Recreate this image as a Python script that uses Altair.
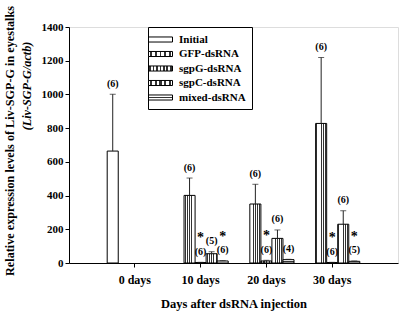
import json
import altair as alt
import pandas as pd

# ---------------- data ----------------
days = ["0 days", "10 days", "20 days", "30 days"]
series = ["Initial", "GFP-dsRNA", "sgpG-dsRNA", "sgpC-dsRNA", "mixed-dsRNA"]

initial_mean = [664]
initial_err = [337]
initial_n = [6]

gfp_mean = [401, 350, 828]
gfp_err = [103, 117, 391]
gfp_n = [6, 6, 6]

sgpg_mean = [3, 12, 3]
sgpg_err = [1, 4, 1]
sgpg_n = [6, 6, 6]
sgpg_star = [True, True, True]

sgpc_mean = [55, 146, 230]
sgpc_err = [12, 50, 80]
sgpc_n = [5, 6, 6]
sgpc_star = [False, False, False]

mixed_mean = [12, 20, 10]
mixed_err = [2, 2, 2]
mixed_n = [6, 4, 5]
mixed_star = [True, False, True]

y_ticks = [0, 200, 400, 600, 800, 1000, 1200, 1400]

rows = [dict(day=days[0], series=series[0], mean=initial_mean[0],
             err=initial_err[0], n=initial_n[0], star=False)]
for s, m, e, n, st in [
    (series[1], gfp_mean, gfp_err, gfp_n, [False] * 3),
    (series[2], sgpg_mean, sgpg_err, sgpg_n, sgpg_star),
    (series[3], sgpc_mean, sgpc_err, sgpc_n, sgpc_star),
    (series[4], mixed_mean, mixed_err, mixed_n, mixed_star),
]:
    for i in range(3):
        rows.append(dict(day=days[i + 1], series=s, mean=m[i], err=e[i],
                         n=n[i], star=st[i]))
df = pd.DataFrame(rows)

# ---------------- styles ----------------
FONT = "Times New Roman, Liberation Serif, Times, serif"


def stripes(count, dark_frac, vertical=True, dark="#333333", light="#ffffff"):
    stops = []
    for i in range(count):
        a = i / count
        b = (i + (1 - dark_frac) / 2) / count
        c = (i + (1 + dark_frac) / 2) / count
        d = (i + 1) / count
        stops += [
            {"offset": round(a, 4), "color": light},
            {"offset": round(b, 4), "color": light},
            {"offset": round(b, 4), "color": dark},
            {"offset": round(c, 4), "color": dark},
            {"offset": round(c, 4), "color": light},
            {"offset": round(d, 4), "color": light},
        ]
    g = {"gradient": "linear", "x1": 0, "y1": 0, "stops": stops}
    if vertical:
        g.update({"x2": 1, "y2": 0})
    else:
        g.update({"x2": 0, "y2": 1})
    return g


fills = [
    {"expr": "'#ffffff'"},
    {"expr": json.dumps(stripes(5, 0.35))},
    {"expr": json.dumps(stripes(7, 0.5))},
    {"expr": json.dumps(stripes(5, 0.42))},
    {"expr": json.dumps(stripes(1, 0.3, vertical=False))},
]

x_enc = alt.X("day:N", scale=alt.Scale(domain=days, paddingInner=0, paddingOuter=0.5),
              axis=alt.Axis(title="Days after dsRNA injection", labelAngle=0,
                            tickSize=4, labelPadding=7, titlePadding=12,
                            labelFontSize=12, titleFontSize=12.5,
                            labelFont=FONT, titleFont=FONT,
                            labelFontWeight="bold", titleFontWeight="bold",
                            domainColor="black", tickColor="black",
                            labelColor="black", titleColor="black"))
xo_enc = alt.XOffset("series:N", scale=alt.Scale(domain=series, paddingInner=0,
                                                 paddingOuter=0.48))
y_scale = alt.Scale(domain=[0, 1400], nice=False)
y_axis = alt.Axis(values=y_ticks, format="d", labelOverlap=False,
                  title=None, tickSize=4, labelPadding=2,
                  labelFontSize=11, labelFont=FONT, labelFontWeight="bold",
                  domainColor="black", tickColor="black",
                  labelColor="black", grid=False)
y_mean = alt.Y("mean:Q", scale=y_scale, axis=y_axis)
y_top = alt.Y("top:Q", scale=y_scale, axis=y_axis)

base = alt.Chart(df).encode(x=x_enc, xOffset=xo_enc)

legend = alt.Legend(
    title=None, orient="none", legendX=79, legendY=0,
    symbolType="M-2,-0.42H2V0.42H-2Z", symbolSize=144,
    symbolStrokeColor="black", symbolStrokeWidth=1, symbolOpacity=1,
    labelFont=FONT, labelFontSize=11, labelFontWeight="bold", labelColor="black",
    labelOffset=12, rowPadding=2.5, padding=6,
    strokeColor="black", fillColor="white",
)

bars = base.mark_bar(stroke="black", strokeWidth=1, opacity=1).encode(
    y=y_mean,
    color=alt.Color("series:N", scale=alt.Scale(domain=series, range=fills),
                    legend=legend),
)

base_err = base.transform_calculate(top="datum.mean + datum.err")

err_line = base_err.mark_rule(color="#222222", strokeWidth=1).encode(
    y=y_mean, y2="top:Q")
err_cap = base_err.mark_tick(color="#222222", orient="horizontal", size=6,
                             thickness=1).encode(y=y_top)

labels = base_err.transform_calculate(lab="'(' + datum.n + ')'").mark_text(
    font=FONT, fontSize=10, fontWeight="bold", color="black", dy=-10.5,
    baseline="middle").encode(y=y_top, text="lab:N")

stars = base_err.transform_filter("datum.star").mark_text(
    font=FONT, fontSize=14, fontWeight="bold", color="black", dy=-24,
    baseline="middle").encode(y=y_top, text=alt.value("*"))

ytitle1 = alt.Chart(pd.DataFrame({"t": ["Relative expression levels of Liv-SGP-G in eyestalks"]})
                    ).mark_text(angle=270, font=FONT, fontSize=12.2, fontWeight="bold",
                                color="black", baseline="middle", align="center").encode(
    x=alt.value(-59), y=alt.value(114), text="t:N")
ytitle2 = alt.Chart(pd.DataFrame({"t": ["(Liv-SGP-G/actb)"]})
                    ).mark_text(angle=270, font=FONT, fontSize=12.2, fontWeight="bold",
                                fontStyle="italic", color="black", baseline="middle",
                                align="center").encode(
    x=alt.value(-42), y=alt.value(59), text="t:N")

chart = alt.layer(bars, err_line, err_cap, labels, stars,
                  ytitle1, ytitle2).properties(
    width=329, height=236,
    autosize=alt.AutoSizeParams(type="none"),
    padding={"left": 69, "top": 27, "right": 3, "bottom": 51},
).configure_view(stroke="black", strokeWidth=1).configure(background="white")

chart.save("out.html", embed_options={"renderer": "svg", "actions": False})
